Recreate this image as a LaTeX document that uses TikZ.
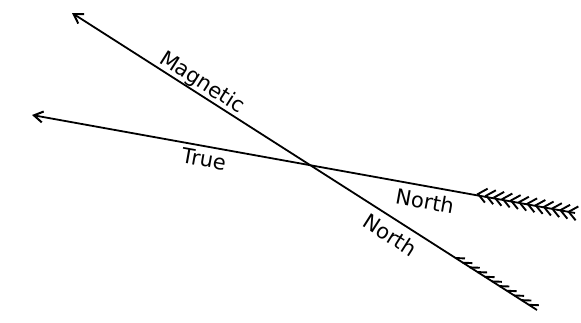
\documentclass[tikz,border=0pt]{standalone}
\usepackage{fontspec}
\setmainfont{DejaVu Sans}
\usetikzlibrary{arrows.meta,calc}
\begin{document}
\begin{tikzpicture}[x=1pt,y=-1pt,
  line/.style={line width=1.8pt},
  tiparrow/.style={-{Straight Barb[length=9pt,width=11pt,line width=2pt]}},
  lbl/.style={font=\fontsize{21}{23}\selectfont, inner sep=0pt},
  barb/.style={line width=1.9pt}]
\useasboundingbox (0,0) rectangle (581,322);
% magnetic line
\coordinate (mtip) at (72,13);
\coordinate (mend) at (537,310);
\coordinate (mfs) at (455,258);
% true line
\coordinate (ttip) at (32,115);
\coordinate (tend) at (575,213);
\coordinate (tfs) at (478,194);
\draw[line,tiparrow] (mend) -- (mtip);
\draw[line,tiparrow] (tend) -- (ttip);
% true fletching (chevrons)
\foreach \f in {0,0.085,...,0.95}{
  \path ($(tfs)!\f!(tend)$) coordinate (p);
  \draw[barb] ($(p)!11pt!40:(tend)$) -- (p) -- ($(p)!11pt!-40:(tend)$);
}
% magnetic hatching (one side)
\foreach \f in {0,0.09,...,0.95}{
  \path ($(mfs)!\f!(mend)$) coordinate (q);
  \draw[barb] (q) -- ($(q)!10pt!30:(mend)$);
}
% labels
\node[lbl,rotate=-32.5] (lmag) at (202,83) {Magnetic};
\node[lbl,rotate=-32.5] (lmn) at (390,235) {North};
\node[lbl,rotate=-10.2] (ltrue) at (204,159) {True};
\node[lbl,rotate=-10.2] (ltn) at (425,201) {North};
\end{tikzpicture}
\end{document}
